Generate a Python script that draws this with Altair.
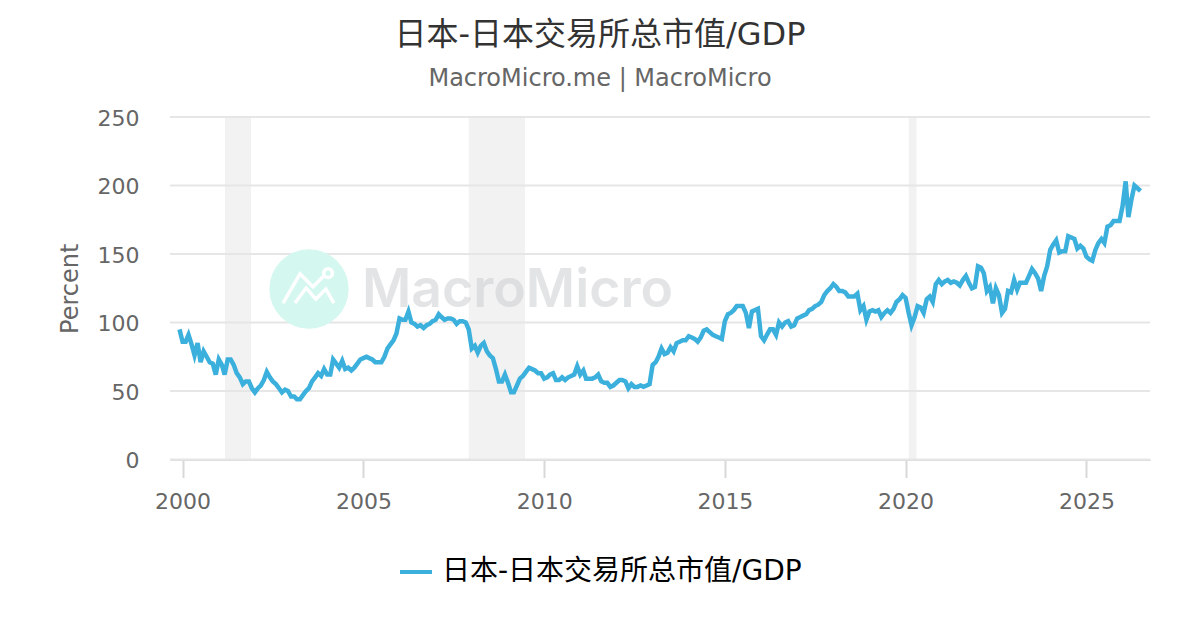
import altair as alt
import pandas as pd

TITLE = "日本-日本交易所总市值/GDP"
SUBTITLE = "MacroMicro.me | MacroMicro"
START = "1999-12-01"
FONT = "DejaVu Sans, Noto Sans CJK SC, sans-serif"

values_a = [95,86,86,91,84,76,85,71,79,75,71,70,62,73,69,62,73,73,69,63,60,55,57,57,52,49,52,54,58,64,60,57,55,52,49,51,50,46,46,44,44,47,50,52,57,60,63,61,66,62,62,73,70,67,72,66,67,65,67,70,73,74,75,74,73,71,71,71,75,81,84,87,92,103,102,102,108,100,99,97,98,96,98,99,101,102,106,104,102,103,103,102,99,101,101,100,95,81,83,78,83,85,79,76,74,66,57]
values_b = [57,62,56,49,49,54,59,61,64,67,66,65,63,63,59,60,62,63,58,58,60,58,60,61,62,68,62,65,59,59,59,60,62,57,56,56,53,54,56,58,58,57,52,55,53,53,54,53,54,55,69,71,75,81,77,78,82,79,85,86,87,87,90,89,88,86,89,94,95,93,91,90,89,88,101,106,107,109,112,112,112,107,96,108,109,110,90,87,91,95,95,91,100,97,100,101,97,98,103,104,105,106,109,110,112,113,115,120,123,125]
values_c = [128,126,123,123,122,119,119,119,121,109,112,102,108,109,108,109,104,107,109,107,110,115,117,120,118,107,98,104,112,111,107,117,119,115,128,131,128,130,131,129,130,129,127,131,134,129,125,126,141,140,136,123,126,114,125,120,107,110,123,122,131,124,129,129,129,134,139,136,132,123,134,141,153,157,160,151,152,152,163,162,161,154,156,154,148,146,145,153,158,161,158,170,171,174,174,174,185,203,177,190,200,198,196]
values = values_a + values_b + values_c

band_starts = ["2001-03-05", "2007-12-01", "2020-02-01"]
band_ends = ["2001-11-22", "2009-06-22", "2020-04-20"]
x_domain = ["1999-08-27", "2026-10-05"]
y_ticks = [0, 50, 100, 150, 200, 250]

line_df = pd.DataFrame({"date": pd.date_range(START, periods=len(values), freq="MS"), "value": values, "series": TITLE})
band_df = pd.DataFrame({"start": pd.to_datetime(band_starts), "end": pd.to_datetime(band_ends)})

x_scale = alt.Scale(domain=x_domain)
y_scale = alt.Scale(domain=[0, 250], nice=False)

bands = alt.Chart(band_df).mark_rect(color="#f2f2f2").encode(
    x=alt.X("start:T", scale=x_scale, title=None,
            axis=alt.Axis(format="%Y", tickCount={"interval": "year", "step": 5}, grid=False,
                          labelFontSize=22, labelColor="#666666", labelPadding=14, labelFlush=False,
                          domainColor="#d8d8d8", domainWidth=2, tickColor="#d8d8d8", tickWidth=2, tickSize=18)),
    x2="end:T",
)

grid = alt.Chart(pd.DataFrame({"v": y_ticks})).mark_rule(color="#e6e6e6", strokeWidth=2).encode(
    y=alt.Y("v:Q", scale=y_scale, title="Percent",
            axis=alt.Axis(values=y_ticks, grid=False, domain=False, ticks=False,
                          labelFontSize=22, labelColor="#666666", labelPadding=31, labelOffset=1,
                          titleFontSize=24, titleColor="#666666", titleFontWeight="normal", titlePadding=15)),
)

logo_circle = alt.Chart(pd.DataFrame({"a": [0]})).mark_point(
    filled=True, color="#d4f7f0", opacity=1, size=6290, shape="circle"
).encode(x=alt.value(139), y=alt.value(172))

logo_line = alt.Chart(pd.DataFrame({"a": [0]})).mark_point(
    filled=False, color="#ffffff", opacity=1, strokeWidth=3.5, size=5184,
    shape="M-0.72 0.39 L-0.25 -0.42 L0.11 -0.06 L0.44 -0.39 M0.41 -0.44 A0.12 0.12 0 1 1 0.65 -0.44 A0.12 0.12 0 1 1 0.41 -0.44 M-0.39 0.39 L-0.08 -0.03 L0.19 0.28 L0.47 0 L0.69 0.39",
).encode(x=alt.value(139), y=alt.value(172))

logo_text = alt.Chart(pd.DataFrame({"t": ["MacroMicro"]})).mark_text(
    font="Inter, Roboto, sans-serif", fontSize=53.5, fontWeight=600, color="#c9cbcd", opacity=0.5,
    align="left", baseline="middle",
).encode(text="t:N", x=alt.value(192), y=alt.value(174))

line = alt.Chart(line_df).mark_line(strokeWidth=4.5, strokeJoin="miter", interpolate="linear").encode(
    x=alt.X("date:T", scale=x_scale),
    y=alt.Y("value:Q", scale=y_scale),
    color=alt.Color("series:N", scale=alt.Scale(range=["#3cb0dc"]), title=None,
                    legend=alt.Legend(orient="none", legendX=228, legendY=437, symbolType="stroke",
                                      symbolStrokeWidth=4, symbolSize=1024, labelFontSize=28, labelOffset=8,
                                      labelColor="#000000", labelFont=FONT, labelLimit=600)),
)

chart = alt.layer(bands, grid, logo_circle, logo_line, logo_text, line).properties(
    width=980, height=342.5,
    padding={"left": 162, "top": 109, "right": 42, "bottom": 150},
    autosize=alt.AutoSizeParams(type="none"),
    title=alt.TitleParams(TITLE, subtitle=SUBTITLE, anchor="middle", dx=-60, offset=15,
                          font=FONT, fontSize=32, fontWeight="normal", color="#333333",
                          subtitleFont=FONT, subtitleFontSize=24, subtitleColor="#666666", subtitlePadding=15),
).configure_view(stroke=None).configure_axis(labelFont=FONT, titleFont=FONT)

chart.save("out.html", embed_options={"renderer": "svg", "actions": False})
